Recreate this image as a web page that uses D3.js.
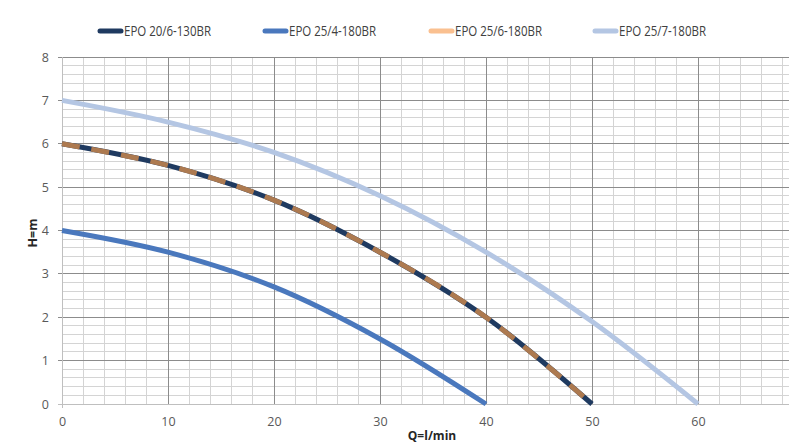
<!DOCTYPE html>
<html><head><meta charset="utf-8">
<script src="https://cdn.jsdelivr.net/npm/d3@7"></script>
<style>body{margin:0;background:#fff;overflow:hidden}svg{display:block}</style>
</head><body>
<svg id="c" width="789" height="445"></svg>
<script>
const seriesNames = ["EPO 20/6-130BR","EPO 25/4-180BR","EPO 25/6-180BR","EPO 25/7-180BR"];
const q_20_6 = [0,10,20,30,40,50];
const h_20_6 = [6,5.5,4.7,3.5,2,0];
const q_25_4 = [0,10,20,30,40];
const h_25_4 = [4,3.5,2.7,1.5,0];
const q_25_6 = [0,10,20,30,40,50];
const h_25_6 = [6,5.5,4.7,3.5,2,0];
const q_25_7 = [0,10,20,30,40,50,60];
const h_25_7 = [7,6.5,5.8,4.8,3.5,1.9,0];
const xTicks = [0,10,20,30,40,50,60];
const yTicks = [0,1,2,3,4,5,6,7,8];

const svg = d3.select("#c");
const x = d3.scaleLinear().domain([0,70]).range([62,804]);
const y = d3.scaleLinear().domain([0,8]).range([404,57]);
const font = "'Open Sans','Noto Sans',sans-serif";

// minor gridlines
const g = svg.append("g");
g.selectAll(".vx").data(d3.range(0,72,2)).enter().append("line")
  .attr("x1",d=>x(d)).attr("x2",d=>x(d)).attr("y1",y(8)).attr("y2",y(0))
  .attr("stroke","#d4d4d4").attr("stroke-width",1).attr("shape-rendering","crispEdges");
g.selectAll(".hy").data(d3.range(0,40,1).map(i=>i*0.2)).enter().append("line")
  .attr("x1",x(0)).attr("x2",x(70)).attr("y1",d=>y(d)).attr("y2",d=>y(d))
  .attr("stroke","#d4d4d4").attr("stroke-width",1).attr("shape-rendering","crispEdges");
// major gridlines
g.selectAll(".mx").data(d3.range(10,80,10)).enter().append("line")
  .attr("x1",d=>x(d)).attr("x2",d=>x(d)).attr("y1",y(8)).attr("y2",y(0))
  .attr("stroke","#8c8c8c").attr("stroke-width",1).attr("shape-rendering","crispEdges");
g.selectAll(".my").data(yTicks).enter().append("line")
  .attr("x1",x(0)-4).attr("x2",x(70)).attr("y1",d=>y(d)).attr("y2",d=>y(d))
  .attr("stroke",d=>d===0?"#bfbfbf":"#8c8c8c").attr("stroke-width",1).attr("shape-rendering","crispEdges");
g.append("line").attr("x1",x(0)).attr("x2",x(0)).attr("y1",y(8)).attr("y2",y(0)+4)
  .attr("stroke","#bfbfbf").attr("shape-rendering","crispEdges");

// axes labels via d3 axes
const xAxis = svg.append("g").attr("transform",`translate(0,${y(0)})`)
  .call(d3.axisBottom(x).tickValues(xTicks).tickSize(0).tickPadding(13));
const yAxis = svg.append("g").attr("transform",`translate(${x(0)},0)`)
  .call(d3.axisLeft(y).tickValues(yTicks).tickSize(0).tickPadding(13));
[xAxis,yAxis].forEach(a=>{
  a.select(".domain").remove();
  a.selectAll("text").attr("font-family",font).attr("font-size","12.5px").attr("fill","#595959");
});

const line = d3.line().x(d=>x(d[0])).y(d=>y(d[1])).curve(d3.curveCatmullRom.alpha(0.5));
const zip = (a,b)=>a.map((v,i)=>[v,b[i]]);

svg.append("path").datum(zip(q_25_7,h_25_7)).attr("d",line)
  .attr("fill","none").attr("stroke","#b4c6e3").attr("stroke-width",5);
svg.append("path").datum(zip(q_25_4,h_25_4)).attr("d",line)
  .attr("fill","none").attr("stroke","#4a78bd").attr("stroke-width",5);
svg.append("path").datum(zip(q_20_6,h_20_6)).attr("d",line)
  .attr("fill","none").attr("stroke","#1f3a60").attr("stroke-width",5);
svg.append("path").datum(zip(q_25_6,h_25_6)).attr("d",line)
  .attr("fill","none").attr("stroke","#ad7a50").attr("stroke-width",5)
  .attr("stroke-dasharray","18,12");

// legend
const legColors = ["#1f3a60","#4a78bd","#fac090","#b4c6e3"];
const legX = [98,263,429,593];
seriesNames.forEach((n,i)=>{
  svg.append("line").attr("x1",legX[i]+2).attr("x2",legX[i]+23).attr("y1",31).attr("y2",31)
    .attr("stroke",legColors[i]).attr("stroke-width",5).attr("stroke-linecap","round");
  svg.append("text").attr("x",legX[i]+26).attr("y",36).text(n)
    .attr("font-family",font).attr("font-size","14.5px").attr("fill","#404040")
    .attr("textLength",87).attr("lengthAdjust","spacingAndGlyphs");
});

svg.append("text").attr("transform",`translate(37,233) rotate(-90)`).attr("text-anchor","middle")
  .text("H=m").attr("font-family",font).attr("font-size","12.5px").attr("font-weight","bold").attr("fill","#262626");
svg.append("text").attr("x",432).attr("y",440).attr("text-anchor","middle")
  .text("Q=l/min").attr("font-family",font).attr("font-size","12px").attr("font-weight","bold").attr("fill","#262626");
</script>
</body></html>
